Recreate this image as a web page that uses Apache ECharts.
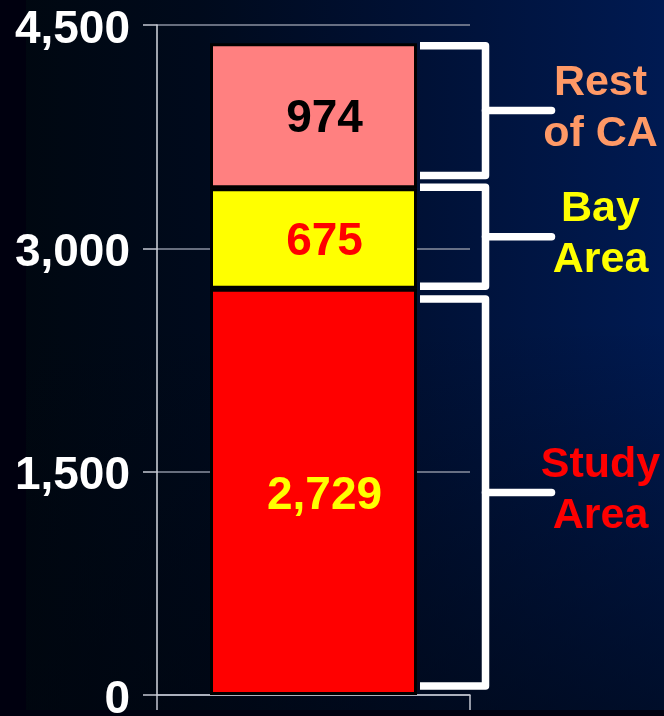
<!DOCTYPE html>
<html>
<head>
<meta charset="utf-8">
<script src="https://cdn.jsdelivr.net/npm/echarts@6/dist/echarts.min.js"></script>
<style>
  html, body { margin: 0; padding: 0; }
  #chart {
    width: 664px; height: 716px;
    background:
      linear-gradient(to right, #00000f 0px, #00000f 26px, rgba(0,0,0,0) 26px),
      linear-gradient(to bottom, rgba(0,0,0,0) 710px, #00000f 710px),
      linear-gradient(to bottom, rgba(0,0,0,0) 0%, rgba(0,0,0,0) 45%, rgba(0,5,14,0.6) 100%),
      linear-gradient(to right, #00070f 0%, #000a1c 30%, #001033 60%, #001a52 100%);
  }
</style>
</head>
<body>
<div id="chart"></div>
<script>
// Population by region (thousands), stacked bottom to top
const regions = ['Study Area', 'Bay Area', 'Rest of CA'];
const values = [2729, 675, 974];
const barColors = ['#ff0000', '#ffff00', '#ff8080'];
const valueLabelColors = ['#ffff00', '#ff0000', '#000000'];
const regionLabels = ['Study\nArea', 'Bay\nArea', 'Rest\nof CA'];
const regionLabelColors = ['#ff0000', '#ffff00', '#ff9966'];
const yTicks = [0, 1500, 3000, 4500];

// Value span covered by each bracket
const bracketTop = [2660, 3410, 4360];
const bracketBottom = [60, 2745, 3490];

const fmt = v => v.toLocaleString('en-US');
const FONT = '"Liberation Sans", Arial, sans-serif';

const chart = echarts.init(document.getElementById('chart'), null, { renderer: 'canvas' });

const barSeries = regions.map((name, i) => ({
  name: name,
  type: 'bar',
  stack: 'total',
  barWidth: 207,
  data: [values[i]],
  itemStyle: { color: barColors[i], borderColor: '#000', borderWidth: 3 },
  label: {
    show: true,
    position: 'inside',
    offset: [11, 4],
    formatter: p => fmt(p.value),
    color: valueLabelColors[i],
    fontFamily: FONT,
    fontWeight: 'bold',
    fontSize: 46
  },
  z: 3
}));

const bracketSeries = {
  type: 'custom',
  silent: true,
  z: 4,
  data: regions.map((_, i) => [0, bracketTop[i], bracketBottom[i], i]),
  encode: { x: 0, y: [1, 2] },
  renderItem: function (params, api) {
    const i = api.value(3);
    const cx = api.coord([api.value(0), 0])[0];
    const yTop = api.coord([0, api.value(1)])[1];
    const yBot = api.coord([0, api.value(2)])[1];
    const yMid = (yTop + yBot) / 2;
    const xStart = cx + 106.5, xVert = cx + 172, xArm = cx + 238;
    const stroke = { stroke: '#ffffff', lineWidth: 7.5, fill: null, lineJoin: 'round' };
    return {
      type: 'group',
      children: [
        {
          type: 'polyline',
          shape: { points: [[xStart, yTop], [xVert, yTop], [xVert, yBot], [xStart, yBot]] },
          style: Object.assign({ lineCap: 'butt' }, stroke)
        },
        {
          type: 'line',
          shape: { x1: xVert, y1: yMid, x2: xArm, y2: yMid },
          style: Object.assign({ lineCap: 'round' }, stroke)
        },
        {
          type: 'text',
          x: cx + 287,
          y: yMid - 2,
          style: {
            text: regionLabels[i],
            fill: regionLabelColors[i],
            font: 'bold 43px ' + FONT,
            lineHeight: 51,
            align: 'center',
            verticalAlign: 'middle',
            textShadowColor: 'rgba(0,0,0,0.9)',
            textShadowOffsetX: 2,
            textShadowOffsetY: 2,
            textShadowBlur: 0
          }
        }
      ]
    };
  }
};

chart.setOption({
  backgroundColor: 'transparent',
  animation: false,
  grid: { left: 157, right: 194, top: 25, bottom: 21, containLabel: false, outerBoundsMode: 'none' },
  xAxis: {
    type: 'category',
    data: [''],
    boundaryGap: true,
    axisLine: { show: true, lineStyle: { color: '#c4c8d2', width: 1.5 } },
    axisTick: { show: true, length: 15, lineStyle: { color: '#c4c8d2', width: 1.5 } },
    axisLabel: { show: false },
    splitLine: { show: false }
  },
  yAxis: {
    type: 'value',
    min: 0,
    max: 4500,
    interval: 1500,
    axisLine: { show: true, lineStyle: { color: '#d4d8e0', width: 1.5 } },
    axisTick: { show: true, length: 14, lineStyle: { color: '#c4c8d2', width: 1.5 } },
    splitLine: { show: true, lineStyle: { color: '#8a90a0', width: 1.5 } },
    axisLabel: {
      margin: 27,
      formatter: v => yTicks.includes(v) ? '{t|' + fmt(v) + '}' : '',
      rich: {
        t: {
          color: '#ffffff',
          fontFamily: FONT,
          fontWeight: 'bold',
          fontSize: 46,
          padding: [10, 0, 0, 0]
        }
      }
    }
  },
  series: barSeries.concat([bracketSeries])
});
</script>
</body>
</html>
